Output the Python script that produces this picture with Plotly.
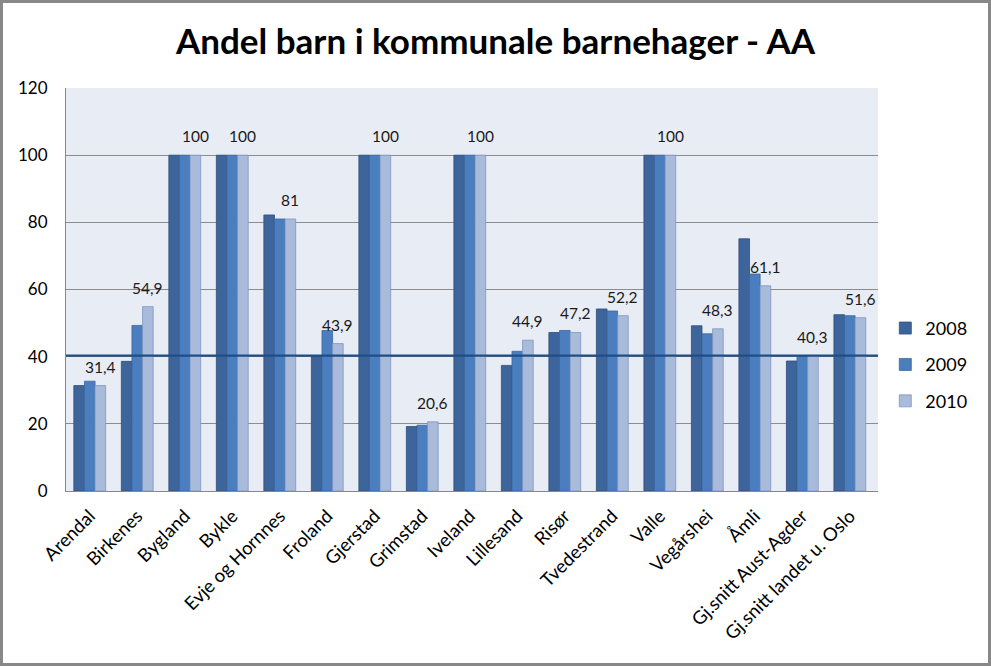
import plotly.graph_objects as go

categories = ["Arendal", "Birkenes", "Bygland", "Bykle", "Evje og Hornnes", "Froland",
              "Gjerstad", "Grimstad", "Iveland", "Lillesand", "Risør", "Tvedestrand",
              "Valle", "Vegårshei", "Åmli", "Gj.snitt Aust-Agder", "Gj.snitt landet u. Oslo"]
v2008 = [31.4, 38.6, 100, 100, 82.2, 40.0, 100, 19.2, 100, 37.4, 47.2, 54.2, 100, 49.2, 75.1, 38.7, 52.5]
v2009 = [32.7, 49.3, 100, 100, 81.0, 47.8, 100, 19.6, 100, 41.6, 47.8, 53.6, 100, 46.8, 64.6, 40.2, 52.2]
v2010 = [31.4, 54.9, 100, 100, 81.0, 43.9, 100, 20.6, 100, 44.9, 47.2, 52.2, 100, 48.3, 61.1, 40.3, 51.6]
series_names = ["2008", "2009", "2010"]
ref_line = 40.3
y_ticks = [0, 20, 40, 60, 80, 100, 120]

FONT = "Lato"
colors = ["#3E659B", "#4A7EBF", "#A9BBDA"]
outlines = ["#2D4E7C", "#3A68A0", "#7D95C2"]

# layout geometry (pixels)
W, H = 991, 666
L, R, T, B = 66, 113, 88, 175
pw, ph = W - L - R, H - T - B
bargap = 0.33

fig = go.Figure()
for name, vals, c, oc in zip(series_names, [v2008, v2009, v2010], colors, outlines):
    fig.add_trace(go.Bar(
        x=categories, y=vals, name=name, legendgroup=name,
        marker=dict(color=c, line=dict(color=oc, width=0.8)),
        hoverinfo="x+y+name",
    ))

# data labels on 2010 series, centred over its bar
cat_w = pw / len(categories)
bar_w = cat_w * (1 - bargap) / 3
for cat, v in zip(categories, v2010):
    txt = (f"{v:g}").replace(".", ",")
    fig.add_annotation(x=cat, y=v, text=txt, showarrow=False, xref="x", yref="y",
                       xshift=bar_w, yshift=19, yanchor="middle",
                       font=dict(family=FONT, size=15.5, color="#1a1a1a"))

# reference line
fig.add_shape(type="line", xref="paper", yref="y", x0=0, x1=1, y0=ref_line, y1=ref_line,
              line=dict(color="#1F4E86", width=2.2), layer="above")

# outer chart border
fig.add_shape(type="rect", xref="paper", yref="paper",
              x0=-(L - 1.5) / pw, x1=(W - L - 1.5) / pw,
              y0=-(B - 1.5) / ph, y1=(H - B - 1.5) / ph,
              line=dict(color="#888888", width=3), fillcolor="rgba(0,0,0,0)", layer="above")

fig.update_layout(
    width=W, height=H,
    margin=dict(l=L, r=R, t=T, b=B, autoexpand=False),
    paper_bgcolor="white", plot_bgcolor="#E8ECF4",
    barmode="group", bargap=bargap, bargroupgap=0,
    title=dict(text="<b>Andel barn i kommunale barnehager - AA</b>", x=0.5, xref="container",
               y=1 - 42 / H, yref="container", yanchor="middle", xanchor="center",
               font=dict(family=FONT, size=35, color="black")),
    font=dict(family=FONT, size=16, color="black"),
    showlegend=True,
    legend=dict(x=1.009, xanchor="left", y=0.313, yanchor="middle", tracegroupgap=10,
                font=dict(family=FONT, size=18, color="black"), bgcolor="rgba(0,0,0,0)"),
    xaxis=dict(tickangle=-45, showline=True, linecolor="#888888", linewidth=1,
               ticks="outside", ticklen=6, tickcolor="rgba(0,0,0,0)", showgrid=False,
               tickfont=dict(family=FONT, size=18.5)),
    yaxis=dict(range=[0, 120], tickvals=y_ticks, showline=True, linecolor="#888888", linewidth=1,
               showgrid=True, gridcolor="#8C8C8C", gridwidth=1, zeroline=False,
               ticks="", ticklabelstandoff=14, tickfont=dict(family=FONT, size=17)),
)

fig.write_html("out.html")
